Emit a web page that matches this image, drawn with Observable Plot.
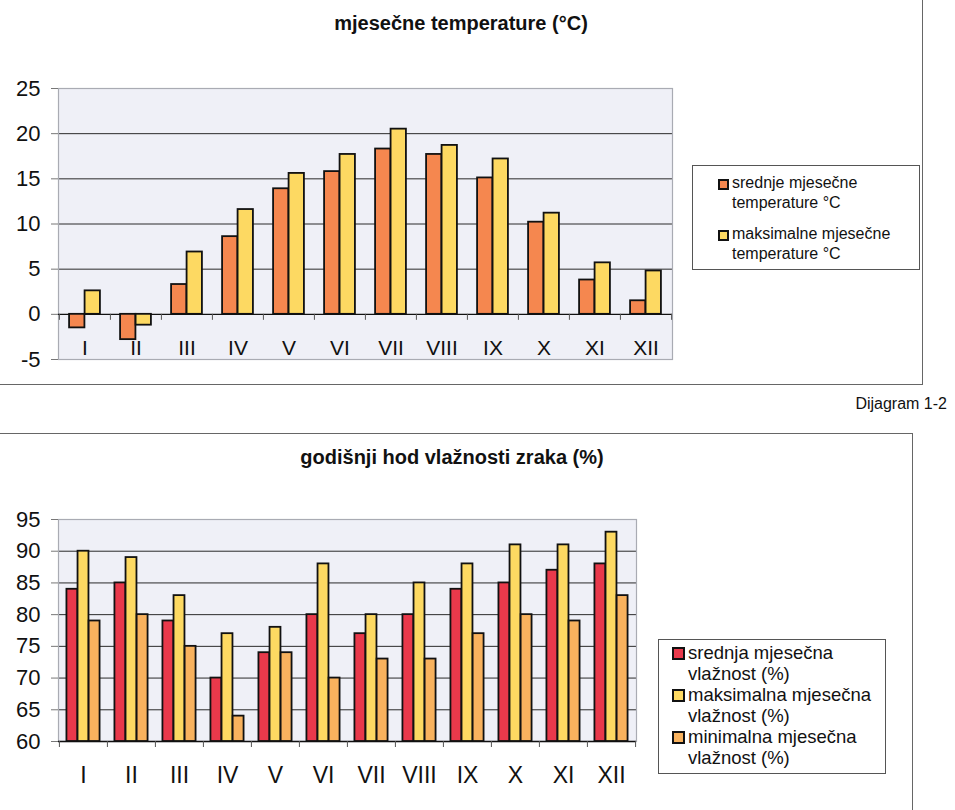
<!DOCTYPE html>
<html>
<head>
<meta charset="utf-8">
<script src="https://cdn.jsdelivr.net/npm/d3@7"></script>
<script src="https://cdn.jsdelivr.net/npm/@observablehq/plot@0.6"></script>
<style>
  html, body { margin: 0; padding: 0; background: #fff; }
  body { width: 955px; height: 810px; overflow: hidden; font-family: "Liberation Sans", Arial, sans-serif; color: #111; }
  #page { position: relative; width: 955px; height: 810px; }
  .abs { position: absolute; }
  svg text { font-family: "Liberation Sans", Arial, sans-serif; }
  .title { font-weight: bold; font-size: 20px; text-align: center; white-space: nowrap; }
  .legend { position: absolute; border: 1.2px solid #555; background: #fff; box-sizing: border-box; }
  .item { display: flex; align-items: flex-start; }
  .sw { flex: none; border: 2px solid #111; box-sizing: border-box; }
</style>
</head>
<body>
<div id="page"></div>
<script>
// ---------- data ----------
const months = ["I", "II", "III", "IV", "V", "VI", "VII", "VIII", "IX", "X", "XI", "XII"];

const tempTitle = "mjesečne temperature (°C)";
const tempSeries = ["srednje mjesečne temperature °C", "maksimalne mjesečne temperature °C"];
const tempColors = ["#F5874F", "#FDD962"];
const tempMean = [-1.5, -2.8, 3.3, 8.6, 13.9, 15.8, 18.3, 17.7, 15.1, 10.2, 3.8, 1.5];
const tempMax  = [2.6, -1.2, 6.9, 11.6, 15.6, 17.7, 20.5, 18.7, 17.2, 11.2, 5.7, 4.8];
const tempTicks = [-5, 0, 5, 10, 15, 20, 25];

const humTitle = "godišnji hod vlažnosti zraka (%)";
const humSeries = ["srednja mjesečna vlažnost (%)", "maksimalna mjesečna vlažnost (%)", "minimalna mjesečna vlažnost (%)"];
const humColors = ["#E9394B", "#FDD962", "#F8B25E"];
const humMean = [84, 85, 79, 70, 74, 80, 77, 80, 84, 85, 87, 88];
const humMax  = [90, 89, 83, 77, 78, 88, 80, 85, 88, 91, 91, 93];
const humMin  = [79, 80, 75, 64, 74, 70, 73, 73, 77, 80, 79, 83];
const humTicks = [60, 65, 70, 75, 80, 85, 90, 95];

const caption = "Dijagram 1-2";

// ---------- helpers ----------
const page = document.getElementById("page");
function place(el, css) { Object.assign(el.style, css); el.classList.add("abs"); page.appendChild(el); return el; }
function div(text, cls, css) { const d = document.createElement("div"); d.textContent = text; if (cls) d.className = cls; return place(d, css); }

function groupedChart({series, colors, values, ticks, domain, baseline, width, height, mL, mR, mT, mB, barW, labelDy, labelSize, gridDark, lightRules, darkRules}) {
  const bw = (width - mL - mR) / months.length;
  const n = series.length;
  const marks = [
    Plot.frame({fill: "#EFF0F7", stroke: null}),
    Plot.ruleY(gridDark, {stroke: "#2a2a2a", strokeWidth: 1}),
    Plot.frame({stroke: "#a9abb3", strokeWidth: 1.2}),
    Plot.ruleY(lightRules, {stroke: "#a9abb3", strokeWidth: 1.2}),
    Plot.ruleY(darkRules, {stroke: "#111", strokeWidth: 1.3}),
    Plot.axisY({ticks, label: null, tickFormat: d => String(d), tickSize: 7, tickPadding: 11, fontSize: 22, stroke: "#777", fill: "#111"}),
    Plot.ruleX(months, {x: d => d, y1: baseline, y2: baseline, dx: -bw / 2, insetBottom: -6, stroke: "#555"}),
    Plot.ruleX([months[months.length - 1]], {x: d => d, y1: baseline, y2: baseline, dx: bw / 2, insetBottom: -6, stroke: "#555"})
  ];
  values.forEach((arr, i) => {
    const left = bw / 2 - n * barW / 2 + i * barW;
    marks.push(Plot.barY(months.map((m, j) => ({month: m, value: arr[j]})), {
      x: "month", y1: baseline, y2: "value", fill: colors[i], stroke: "#111", strokeWidth: 1.8,
      insetLeft: left, insetRight: bw - left - barW
    }));
  });
  marks.push(Plot.text(months, {x: d => d, text: d => d, frameAnchor: "bottom", dy: labelDy, lineAnchor: "middle", fontSize: labelSize, fill: "#111"}));
  return Plot.plot({
    width, height, marginLeft: mL, marginRight: mR, marginTop: mT, marginBottom: mB,
    style: {fontFamily: "Liberation Sans, Arial, sans-serif", background: "transparent", overflow: "visible"},
    x: {type: "band", domain: months, padding: 0, axis: null},
    y: {domain, axis: null},
    marks
  });
}

function legend(series, colors, css, swSize, fontSize, lineH, gap, textW) {
  const box = document.createElement("div");
  box.className = "legend";
  Object.assign(box.style, css);
  series.forEach((s, i) => {
    const it = document.createElement("div");
    it.className = "item";
    it.style.marginBottom = i < series.length - 1 ? gap + "px" : "0";
    const sw = document.createElement("div");
    sw.className = "sw";
    Object.assign(sw.style, {width: swSize + "px", height: swSize + "px", background: colors[i], marginTop: ((lineH - swSize) / 2 + 1) + "px", marginRight: "3px"});
    const t = document.createElement("div");
    t.textContent = s;
    Object.assign(t.style, {fontSize: fontSize + "px", lineHeight: lineH + "px", width: textW + "px"});
    it.appendChild(sw); it.appendChild(t);
    box.appendChild(it);
  });
  page.appendChild(box);
}

// ---------- frames ----------
place(document.createElement("div"), {left: "-2px", top: "-2px", width: "925px", height: "387px", borderRight: "1.5px solid #666", borderBottom: "1.5px solid #666", boxSizing: "border-box"});
place(document.createElement("div"), {left: "-2px", top: "433px", width: "915px", height: "400px", borderRight: "1.5px solid #666", borderTop: "1.5px solid #666", boxSizing: "border-box"});

// ---------- chart 1 ----------
div(tempTitle, "title", {left: "261px", width: "400px", top: "12px"});
const c1 = groupedChart({
  series: tempSeries, colors: tempColors, values: [tempMean, tempMax], ticks: tempTicks, domain: [-5, 25], baseline: 0,
  width: 690, height: 350, mL: 58, mR: 18, mT: 48, mB: 31, barW: 15.5, labelDy: -11, labelSize: 21,
  gridDark: [5, 10, 15, 20], lightRules: [25, -5], darkRules: [0]
});
place(c1, {left: "0px", top: "40px"});
legend(tempSeries, tempColors, {left: "692px", top: "165px", width: "228px", height: "105px", padding: "7px 0 0 25px"}, 11, 16, 20, 11, 175);

div(caption, "", {right: "8px", top: "395px", fontSize: "16px"});

// ---------- chart 2 ----------
div(humTitle, "title", {left: "252px", width: "400px", top: "446px"});
const c2 = groupedChart({
  series: humSeries, colors: humColors, values: [humMean, humMax, humMin], ticks: humTicks, domain: [60, 95], baseline: 60,
  width: 650, height: 310, mL: 58, mR: 14, mT: 29, mB: 59, barW: 11.1, labelDy: 34, labelSize: 23,
  gridDark: [65, 70, 75, 80, 85, 90], lightRules: [95], darkRules: [60]
});
place(c2, {left: "0px", top: "490px"});
legend(humSeries, humColors, {left: "658px", top: "639px", width: "228px", height: "135px", padding: "2px 0 0 13px"}, 13, 18.5, 21, 0, 195);
</script>
</body>
</html>
